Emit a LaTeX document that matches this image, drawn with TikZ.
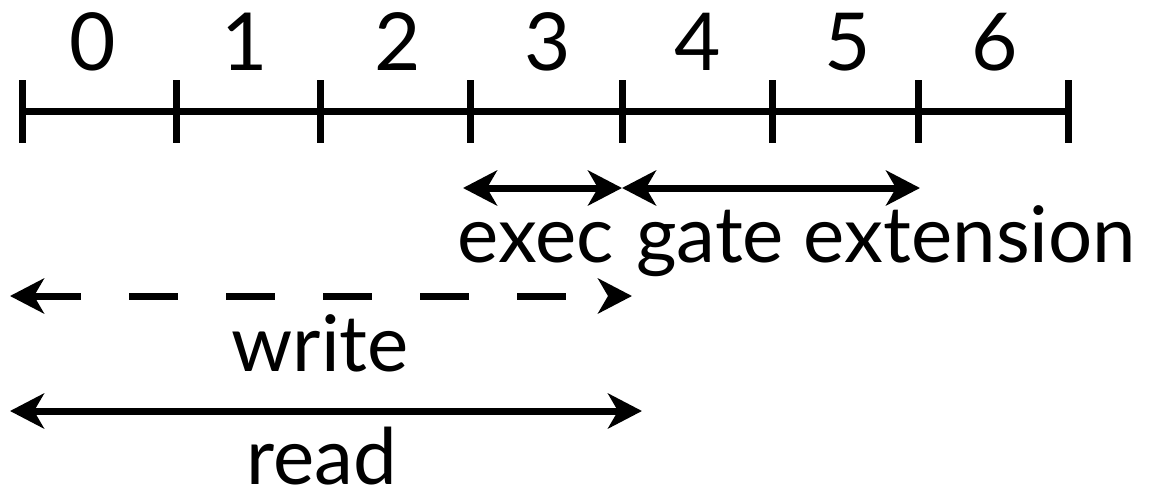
\documentclass[tikz,border=0pt]{standalone}
\usepackage{fontspec}
\setmainfont{Lato}
\usetikzlibrary{arrows.meta}
\tikzset{
  axis/.style={line width=7pt},
  tick/.style={line width=7pt},
  span/.style={line width=7pt, {Stealth[length=34pt,width=35pt,inset=10pt]}-{Stealth[length=34pt,width=35pt,inset=10pt]}},
  dspan/.style={span, dash pattern=on 49pt off 48pt},
  num/.style={font=\fontsize{80}{90}\selectfont, inner sep=0pt},
  lbl/.style={font=\fontsize{78}{86}\selectfont, inner sep=0pt, anchor=base},
}
\begin{document}
\begin{tikzpicture}[x=1pt,y=-1pt]
\useasboundingbox (0,0) rectangle (1172,493);
% ticks
\foreach \i/\x in {0/22,1/176,2/320,3/470,4/622,5/772,6/918,7/1068}{
  \coordinate (t\i) at (\x,111);
  \draw[tick] (\x,80) -- (\x,143);
}
\draw[axis] (t0) -- (t7);
% numbers
\foreach \i/\x in {0/93,1/245,2/398,3/548,4/698,5/848,6/995}{
  \node[num] (n\i) at (\x,42) {\i};
}
% exec / gate extension
\coordinate (e0) at (463,188);
\coordinate (e1) at (622,188);
\coordinate (g1) at (920,188);
\draw[span] (e0) -- (e1);
\draw[span] (e1) -- (g1);
\node[lbl, anchor=base east] (exec) at (614,262) {exec};
\node[lbl, anchor=base west] (gate) at (636,262) {gate extension};
% write
\coordinate (w0) at (10,296);
\coordinate (w1) at (632,296);
\draw[dspan] (w0) -- (w1);
\node[lbl] (write) at (320,371) {write};
% read
\coordinate (r0) at (10,411);
\coordinate (r1) at (642,411);
\draw[span] (r0) -- (r1);
\node[lbl, text depth=0pt] (read) at (322,484) {read};
\end{tikzpicture}
\end{document}
